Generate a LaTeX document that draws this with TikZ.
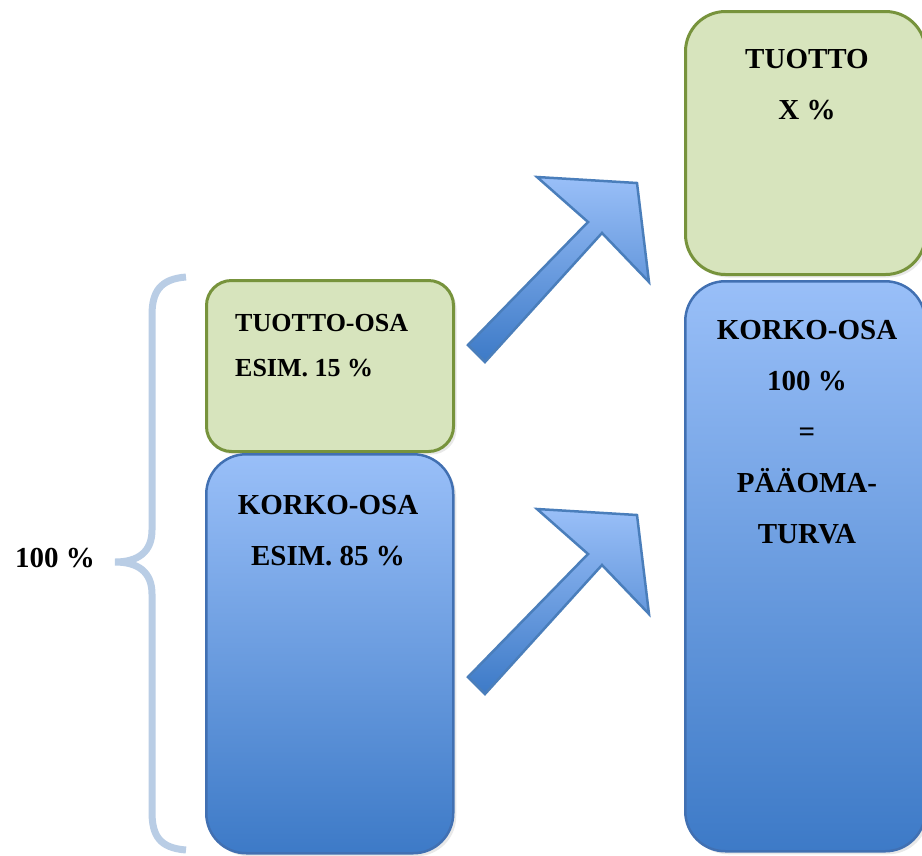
\documentclass[tikz,border=0pt]{standalone}
\usepackage{fontspec}
\setmainfont{Liberation Serif}
\usetikzlibrary{shadows}
\definecolor{greenfill}{HTML}{D7E4BD}
\definecolor{greenline}{HTML}{77933C}
\definecolor{bluetop}{HTML}{99BFF8}
\definecolor{bluemid}{HTML}{7BA5E8}
\definecolor{bluebot}{HTML}{3D7AC7}
\definecolor{blueline}{HTML}{4170B2}
\definecolor{arrowline}{HTML}{4A7EBB}
\definecolor{bracecol}{HTML}{B9CDE5}
\begin{document}
\begin{tikzpicture}[x=1pt,y=-1pt,
  box/.style={rounded corners=40pt,anchor=north west,inner sep=0pt,
    drop shadow={shadow xshift=3pt,shadow yshift=-3pt,opacity=.18}},
  greenbox/.style={box,draw=greenline,line width=3pt,fill=greenfill},
  bluebox/.style={box,draw=blueline,line width=2.5pt,top color=bluetop,middle color=bluemid,bottom color=bluebot},
  lbl/.style={inner sep=0pt,font={\fontsize{29}{51}\selectfont\bfseries},align=center}]
\useasboundingbox (0,0) rectangle (922,855);
% boxes
\node[greenbox,rounded corners=25pt,minimum width=247pt,minimum height=171pt] (tuottoA) at (205,279) {};
\node[bluebox,minimum width=247pt,minimum height=399pt] (korkoA) at (205,453) {};
\node[greenbox,minimum width=240pt,minimum height=263pt] (tuottoB) at (684,10) {};
\node[bluebox,minimum width=240pt,minimum height=570pt] (korkoB) at (684,280) {};
% texts
\node[lbl,anchor=west,align=left,font={\fontsize{26}{45}\selectfont\bfseries}] (tA) at (235,346) {TUOTTO-OSA\\ESIM. 15 \%};
\node[lbl] (kA) at (328,531) {KORKO-OSA\\ESIM. 85 \%};
\node[lbl] (tB) at (807,85) {TUOTTO\\X \%};
\node[lbl] (kB) at (807,432) {KORKO-OSA\\100 \%\\=\\PÄÄOMA-\\TURVA};
\node[lbl] (sum) at (55,558) {100 \%};
% brace
\draw[bracecol,line width=7pt] (186,277) .. controls (160,279) and (152,292) .. (152,315) -- (152,530)
  .. controls (152,552) and (138,562) .. (115,562) .. controls (138,562) and (152,572) .. (152,594)
  -- (152,812) .. controls (152,836) and (160,848) .. (186,850);
% arrows
\foreach \dy in {0,332}
  \draw[arrowline,line width=2.5pt,line join=miter,top color=bluetop,bottom color=bluebot]
    (468,345+\dy) -- (588,222+\dy) -- (537,177+\dy) -- (637,183+\dy) -- (649,282+\dy)
    -- (602,233+\dy) -- (485,362+\dy) -- cycle;
\end{tikzpicture}
\end{document}
